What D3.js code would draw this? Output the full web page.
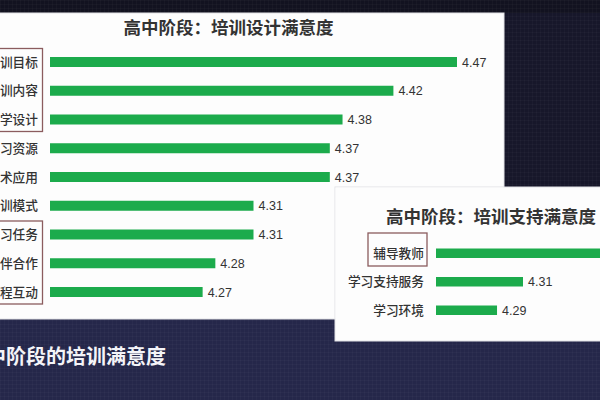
<!DOCTYPE html>
<html><head><meta charset="utf-8">
<script src="https://cdn.jsdelivr.net/npm/d3@7/dist/d3.min.js"></script>
<style>html,body{margin:0;padding:0;background:#25274a;}svg{display:block;}</style>
</head><body>
<svg id="c" width="600" height="400"></svg>
<script>
const designTitle = "高中阶段：培训设计满意度";
const designCats = ["培训目标","培训内容","教学设计","学习资源","技术应用","培训模式","学习任务","同伴合作","课程互动"];
const designVals = [4.47,4.42,4.38,4.37,4.37,4.31,4.31,4.28,4.27];
const supportTitle = "高中阶段：培训支持满意度";
const supportCats = ["辅导教师","学习支持服务","学习环境"];
const supportVals = [4.43,4.31,4.29];
const footerText = "高中阶段的培训满意度";

const CJK = "'Noto Sans CJK SC','Noto Sans',sans-serif";
const NUM = "'Liberation Sans',Arial,sans-serif";
const GREEN = "#1cab4c";
const TXT = "#333333";
const BOXC = "#8b5c5e";

const svg = d3.select("#c");
const defs = svg.append("defs");
const pat = defs.append("pattern").attr("id","grid").attr("width",4).attr("height",4).attr("patternUnits","userSpaceOnUse");
pat.append("rect").attr("width",4).attr("height",4).attr("fill","none");
pat.append("path").attr("d","M0 0.5H4M0.5 0V4").attr("stroke","#ffffff").attr("stroke-opacity",0.025);

// backgrounds
svg.append("rect").attr("x",0).attr("y",0).attr("width",600).attr("height",400).attr("fill","#25274a");
svg.append("rect").attr("x",0).attr("y",0).attr("width",600).attr("height",190).attr("fill","#17172a");
svg.append("rect").attr("x",0).attr("y",0).attr("width",600).attr("height",13).attr("fill","#121220");
svg.append("rect").attr("x",0).attr("y",0).attr("width",600).attr("height",400).attr("fill","url(#grid)");

// left panel
svg.append("rect").attr("x",-2).attr("y",13).attr("width",506).attr("height",306).attr("fill","#fdfdfd").attr("stroke","#e2e2e6").attr("stroke-width",1);
// right panel
svg.append("rect").attr("x",335).attr("y",187).attr("width",268).attr("height",154).attr("fill","#fdfdfd").attr("stroke","#e2e2e6").attr("stroke-width",1);
svg.append("rect").attr("x",335.5).attr("y",187.5).attr("width",168).attr("height",131).attr("fill","#fdfdfd");

// ---- left chart ----
const xL = d3.scaleLinear().domain([4.15, 4.47]).range([50, 457]);
const yL = d3.scalePoint().domain(designCats).range([62, 292]);
const gL = svg.append("g");
gL.append("text").attr("x",228.5).attr("y",34).attr("text-anchor","middle")
  .attr("font-family",CJK).attr("font-weight","bold").attr("font-size",17.5).attr("fill",TXT).text(designTitle);
gL.selectAll("rect.bar").data(designCats).join("rect").attr("class","bar")
  .attr("x",xL(4.15)).attr("y",d=>yL(d)-5).attr("height",10)
  .attr("width",(d,i)=>xL(designVals[i])-xL(4.15)).attr("fill",GREEN);
gL.selectAll("text.cat").data(designCats).join("text").attr("class","cat")
  .attr("x",38).attr("y",d=>yL(d)+4.5).attr("text-anchor","end")
  .attr("font-family",CJK).attr("font-weight",500).attr("font-size",12.7).attr("fill",TXT).text(d=>d);
gL.selectAll("text.val").data(designCats).join("text").attr("class","val")
  .attr("x",(d,i)=>xL(designVals[i])+5).attr("y",d=>yL(d)+4.5)
  .attr("font-family",NUM).attr("font-size",12.5).attr("fill",TXT).text((d,i)=>designVals[i].toFixed(2));
// highlight boxes
const boxes = [[0,2],[6,8]];
boxes.forEach(([a,b])=>{
  const y0 = yL(designCats[a]) - 13.5, y1 = yL(designCats[b]) + 12;
  gL.append("rect").attr("x",-5).attr("y",y0).attr("width",47.5).attr("height",y1-y0)
    .attr("fill","none").attr("stroke",BOXC).attr("stroke-width",1.3);
});

// ---- right chart ----
const xR = d3.scaleLinear().domain([4.243, 4.31]).range([436, 523]);
const yR = d3.scalePoint().domain(supportCats).range([253, 310]);
const gR = svg.append("g");
gR.append("text").attr("x",491).attr("y",223).attr("text-anchor","middle")
  .attr("font-family",CJK).attr("font-weight","bold").attr("font-size",17.5).attr("fill",TXT).text(supportTitle);
gR.selectAll("rect.bar").data(supportCats).join("rect").attr("class","bar")
  .attr("x",xR(4.243)).attr("y",d=>yR(d)-4.5).attr("height",9.5)
  .attr("width",(d,i)=>xR(supportVals[i])-xR(4.243)).attr("fill",GREEN);
gR.selectAll("text.cat").data(supportCats).join("text").attr("class","cat")
  .attr("x",424).attr("y",d=>yR(d)+4.5).attr("text-anchor","end")
  .attr("font-family",CJK).attr("font-weight",500).attr("font-size",12.7).attr("fill",TXT).text(d=>d);
gR.selectAll("text.val").data(supportCats).join("text").attr("class","val")
  .attr("x",(d,i)=>xR(supportVals[i])+5).attr("y",d=>yR(d)+4.5)
  .attr("font-family",NUM).attr("font-size",12.5).attr("fill",TXT).text((d,i)=>supportVals[i].toFixed(2));
gR.append("rect").attr("x",368).attr("y",yR(supportCats[0])-20).attr("width",59).attr("height",33)
  .attr("fill","none").attr("stroke",BOXC).attr("stroke-width",1.3);

// footer
svg.append("text").attr("x",166).attr("y",364).attr("text-anchor","end")
  .attr("font-family",CJK).attr("font-weight","bold").attr("font-size",20).attr("fill","#f4f4f8").text(footerText);
</script>
</body></html>
